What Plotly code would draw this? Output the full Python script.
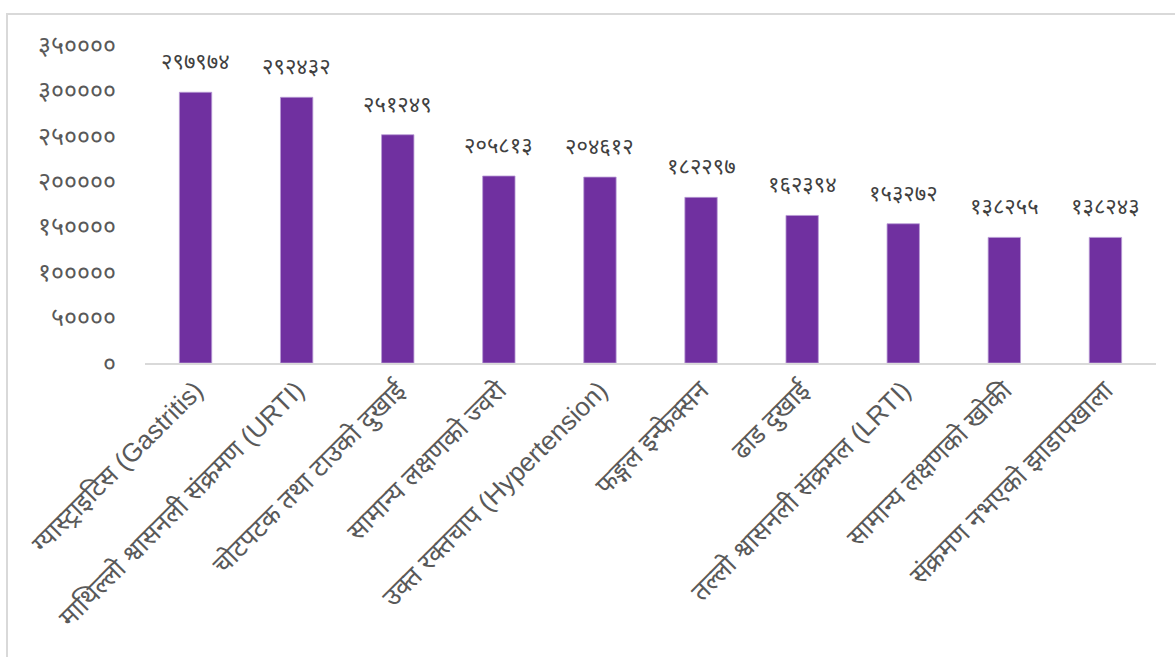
import plotly.graph_objects as go

categories = [
    "ग्यास्ट्राइटिस (Gastritis)",
    "माथिल्लो श्वासनली संक्रमण (URTI)",
    "चोटपटक तथा टाउको दुखाई",
    "सामान्य लक्षणको ज्वरो",
    "उक्त रक्तचाप (Hypertension)",
    "फङ्गल इन्फेक्सन",
    "ढाड दुखाई",
    "तल्लो श्वासनली संक्रमल (LRTI)",
    "सामान्य लक्षणको खोकी",
    "संक्रमण नभएको झाडापखाला",
]
values = [297974, 292432, 251249, 205813, 204612, 182297, 162394, 153272, 138255, 138243]
tick_values = [0, 50000, 100000, 150000, 200000, 250000, 300000, 350000]

DEV = str.maketrans("0123456789", "०१२३४५६७८९")


def dev(n):
    return str(n).translate(DEV)


tick_text = [dev(v) for v in tick_values]
value_text = [dev(v) for v in values]

FONT = "Liberation Sans, Arial, Noto Sans Devanagari, sans-serif"

fig = go.Figure(
    go.Bar(
        x=categories,
        y=values,
        marker=dict(color="#7030A0", line=dict(color="#B89BD4", width=0.8)),
        hoverinfo="skip",
    )
)

for c, v, t in zip(categories, values, value_text):
    fig.add_annotation(
        x=c, y=v, text=t, showarrow=False, yanchor="bottom", yshift=16,
        font=dict(family=FONT, size=22, color="#404040"),
    )

L, R, T, B = 145, 19, 45, 294
W, H = 1175, 657
pw = W - L - R
ph = H - T - B

fig.add_shape(
    type="rect", xref="paper", yref="paper",
    x0=(7 - L) / pw, x1=(W + 10 - L) / pw,
    y0=(H - B - (H + 10)) / ph, y1=(H - B - 14) / ph,
    line=dict(color="#D9D9D9", width=2), fillcolor="rgba(0,0,0,0)", layer="below",
)

fig.update_layout(
    width=W, height=H,
    margin=dict(l=L, r=R, t=T, b=B),
    plot_bgcolor="white", paper_bgcolor="white",
    bargap=0.68,
    showlegend=False,
    font=dict(family=FONT, color="#595959"),
    xaxis=dict(
        tickangle=-45,
        tickfont=dict(family=FONT, size=26, color="#595959"),
        showline=True, linecolor="#D9D9D9", linewidth=1.5,
        ticks="", showgrid=False,
    ),
    yaxis=dict(
        range=[0, 350000],
        tickvals=tick_values, ticktext=tick_text,
        tickfont=dict(family=FONT, size=25, color="#595959"),
        showgrid=False, zeroline=False, showline=False, ticks="",
        ticklabelstandoff=28,
    ),
)

fig.write_html(
    "out.html",
    config={"displayModeBar": False},
    post_script="document.body.style.margin='0';document.body.style.overflow='hidden';",
)
